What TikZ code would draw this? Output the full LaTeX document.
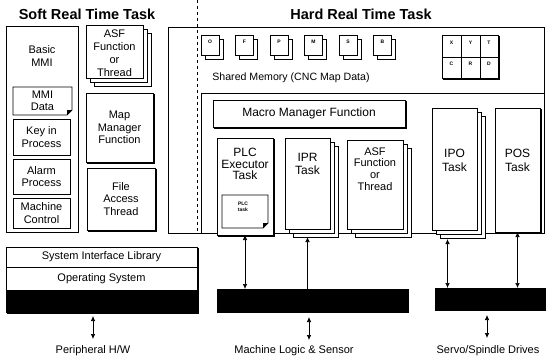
\documentclass[tikz,border=0pt]{standalone}
\usepackage{fontspec}
\setmainfont{Liberation Sans}
\usetikzlibrary{fit,shadows,arrows.meta}
\begin{document}
\begin{tikzpicture}[x=1pt,y=-1pt,
  every node/.style={inner sep=0pt, outer sep=0pt},
  lbl/.style={align=center, font=\fontsize{11}{12.5}\selectfont},
  title/.style={font=\fontsize{14.5}{16}\selectfont\bfseries},
  box/.style={draw, line width=0.8pt, fill=white},
  sbox/.style={box, general shadow={shadow xshift=1.4pt, shadow yshift=-1.4pt, fill=black, draw=black}},
  stack/.style={box,
    general shadow={shadow xshift=8pt, shadow yshift=-8pt, draw, fill=white, line width=0.8pt},
    general shadow={shadow xshift=4pt, shadow yshift=-4pt, draw, fill=white, line width=0.8pt}},
  single/.style={box, general shadow={shadow xshift=4pt, shadow yshift=-4pt, draw, fill=white, line width=0.8pt}},
  tiny/.style={font=\fontsize{5}{5.5}\selectfont\bfseries, align=center},
  bar/.style={fill=black, draw=black},
  arr/.style={{Latex[length=5pt,width=4.5pt]}-{Latex[length=5pt,width=4.5pt]}, line width=0.7pt},
]
\useasboundingbox (0,0) rectangle (546,362);

% titles
\node[title] (softt) at (87,14) {Soft Real Time Task};
\node[title] (hardt) at (361,14) {Hard Real Time Task};

% ---------- soft real time column ----------
\node[box, fit={(6,26) (78,232)}] (mmi) {};
\node[lbl] (mmit) at (42,56) {Basic\\MMI};
\node[fit={(13,87) (72,115)}] (mmid) {};
\draw[line width=0.8pt, fill=white] (mmid.north west) -- (mmid.north east) -- ([yshift=5pt]mmid.south east)
  -- ([xshift=-5pt]mmid.south east) -- (mmid.south west) -- cycle;
\fill ([yshift=5pt]mmid.south east) -- ([xshift=-5pt,yshift=5pt]mmid.south east) -- ([xshift=-5pt]mmid.south east) -- cycle;
\node[lbl] (mmidt) at (mmid.center) {MMI\\Data};
\node[box, fit={(13,119) (70,155)}] (keyin) {};
\node[lbl] (keyint) at (keyin.center) {Key in\\Process};
\node[box, fit={(13,159) (70,194)}] (alarm) {};
\node[lbl] (alarmt) at (alarm.center) {Alarm\\Process};
\node[box, fit={(13,198) (70,228)}] (mctrl) {};
\node[lbl] (mctrlt) at (mctrl.center) {Machine\\Control};

\node[stack, fit={(86,25) (143,78)}] (asfs) {};
\node[lbl, font=\fontsize{11}{13}\selectfont] (asfst) at (114.5,53) {ASF\\Function\\or\\Thread};
\node[sbox, fit={(86,93) (153,162)}] (mapm) {};
\node[lbl] (mapmt) at (mapm.center) {Map\\Manager\\Function};
\node[sbox, fit={(87,168) (155,230)}] (facc) {};
\node[lbl] (facct) at (facc.center) {File\\Access\\Thread};

% ---------- hard real time area ----------
\node[draw, line width=0.7pt, fit={(168,27) (544,233)}] (hard) {};
\coordinate (dtop) at (197,0);
\coordinate (dbot) at (197,233);
\draw[dashed, line width=0.5pt] (dtop) -- (dbot);
\node[draw, line width=0.7pt, fit={(201,93) (544,233)}] (inner) {};

% shared memory blocks
\foreach \l [count=\i from 0] in {O,F,P,M,S,B}{
  \node[single, fit={(201+34.5*\i,35) (219+34.5*\i,55)}] (sm\l) {};
  \node[tiny] (sml\l) at (210+34.5*\i,42) {\l};
}
\node[sbox, fit={(442,35) (498,78)}] (grid) {};
\node[box, fit={(442,35) (461,57)}] (gx) {};
\node[box, fit={(461,35) (480,57)}] (gy) {};
\node[box, fit={(480,35) (498,57)}] (gt) {};
\node[box, fit={(442,57) (461,78)}] (gc) {};
\node[box, fit={(461,57) (480,78)}] (gr) {};
\node[box, fit={(480,57) (498,78)}] (gd) {};
\node[tiny] (gxt) at (451.5,43) {X};
\node[tiny] (gyt) at (470.5,43) {Y};
\node[tiny] (gtt) at (489,43) {T};
\node[tiny] (gct) at (451.5,64) {C};
\node[tiny] (grt) at (470.5,64) {R};
\node[tiny] (gdt) at (489,64) {D};
\node[font=\fontsize{10.6}{12}\selectfont] (shm) at (291,78) {Shared Memory (CNC Map Data)};

% tasks
\node[sbox, fit={(213,100) (405,127)}] (macro) {};
\node[font=\fontsize{12}{13}\selectfont] (macrot) at (macro.center) {Macro Manager Function};
\node[sbox, fit={(217,138) (273,235)}] (plc) {};
\node[lbl, font=\fontsize{12}{11.5}\selectfont] (plct) at (245,164) {PLC\\Executor\\Task};
\node[fit={(222,195) (268,228)}] (plctask) {};
\draw[line width=0.8pt, fill=white] (plctask.north west) -- (plctask.north east) -- ([yshift=5pt]plctask.south east)
  -- ([xshift=-5pt]plctask.south east) -- (plctask.south west) -- cycle;
\fill ([yshift=5pt]plctask.south east) -- ([xshift=-5pt,yshift=5pt]plctask.south east) -- ([xshift=-5pt]plctask.south east) -- cycle;
\node[tiny] (plctaskt) at (243,207) {PLC\\task};

\node[stack, fit={(285,138) (330,229)}] (ipr) {};
\node[lbl, font=\fontsize{12}{12.5}\selectfont] (iprt) at (307.5,164) {IPR\\Task};
\node[stack, fit={(347,140) (403,229)}] (asfh) {};
\node[lbl, font=\fontsize{11}{11.7}\selectfont] (asfht) at (375,169) {ASF\\Function\\or\\Thread};
\node[stack, fit={(432,108) (477,230)}] (ipo) {};
\node[lbl, font=\fontsize{12}{14}\selectfont] (ipot) at (454.5,160) {IPO\\Task};
\node[sbox, fit={(495,108) (540,232)}] (pos) {};
\node[lbl, font=\fontsize{12}{14}\selectfont] (post) at (517.5,160) {POS\\Task};

% ---------- bottom layers ----------
\node[sbox, fit={(6,247) (197,312)}] (lstack) {};
\node[box, fit={(6,247) (197,267)}] (sil) {};
\node[lbl] (silt) at (sil.center) {System Interface Library};
\node[box, fit={(6,267) (197,290)}] (os) {};
\node[lbl] (ost) at (os.center) {Operating System};
\node[bar, fit={(6,290) (197,312)}] (lbar) {};
\node[bar, fit={(217,289) (408,312)}] (mbar) {};
\node[bar, fit={(435,288) (545,310)}] (rbar) {};

% vertical connectors
\draw[arr] (plc.south) -- (plc.south |- mbar.north);
\draw[arr] ([yshift=-8pt]ipr.south) -- ([yshift=-8pt]ipr.south |- mbar.north);
\draw[arr] ([xshift=-7pt,yshift=-9pt]ipo.south) -- ([xshift=-7pt]ipo.south |- rbar.north);
\draw[arr] (pos.south) -- (pos.south |- rbar.north);

% outside labels
\node[lbl] (periph) at (93,351) {Peripheral H/W};
\node[lbl] (mls) at (294,351) {Machine Logic \& Sensor};
\node[lbl] (servo) at (488,351) {Servo/Spindle Drives};
\coordinate (pe) at (93,339);
\coordinate (me) at (309,340);
\coordinate (se) at (487,338);
\draw[arr] (pe) -- ([yshift=-4pt]pe |- lbar.south);
\draw[arr] (me) -- ([yshift=-5pt]me |- mbar.south);
\draw[arr] (se) -- ([yshift=-5pt]se |- rbar.south);
\end{tikzpicture}
\end{document}
